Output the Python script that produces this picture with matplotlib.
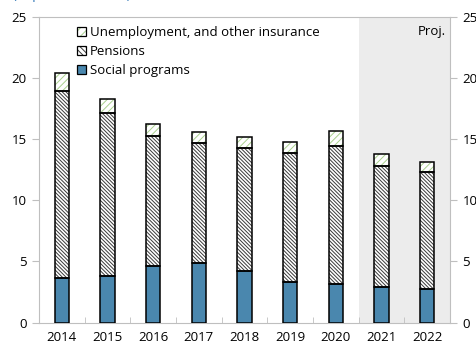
import numpy as np
import matplotlib
matplotlib.use("Agg")
import matplotlib.pyplot as plt
from matplotlib.patches import Patch
from matplotlib.legend_handler import HandlerTuple

# data (percent of GDP)
years = ["2014", "2015", "2016", "2017", "2018", "2019", "2020", "2021", "2022"]
social = [3.62, 3.81, 4.62, 4.84, 4.21, 3.29, 3.15, 2.87, 2.74]
pensions = [15.32, 13.36, 10.64, 9.88, 10.05, 10.56, 11.32, 9.93, 9.55]
unemployment = [1.46, 1.10, 0.96, 0.88, 0.94, 0.95, 1.20, 1.00, 0.87]
yticks = [0, 5, 10, 15, 20, 25]

plt.rcParams['font.family'] = ['Open Sans', 'DejaVu Sans']
plt.rcParams['hatch.linewidth'] = 0.7

blue = "#4a87ae"
green = "#a9d18e"
spine_col = "#bfbfbf"
pens_hatch = "\\" * 9
unemp_hatch = "/////"

fig = plt.figure(figsize=(4.77, 3.47), dpi=100)
ax = fig.add_axes([0.0818, 0.0706, 0.8616, 0.8804])

x = np.arange(len(years))
w = 0.32
social = np.array(social)
pensions = np.array(pensions)
unemployment = np.array(unemployment)

ax.axvspan(6.5, 8.5, color="#ececec", zorder=0, lw=0)

# social programs
ax.bar(x, social, w, color=blue, edgecolor="black", lw=1.1, zorder=3)
# pensions (dark hatch)
ax.bar(x, pensions, w, bottom=social, color="white", edgecolor="#3a3a3a",
       hatch=pens_hatch, lw=0, zorder=2)
ax.bar(x, pensions, w, bottom=social, fill=False, edgecolor="black", lw=1.1, zorder=3)
# unemployment (green hatch)
ax.bar(x, unemployment, w, bottom=social + pensions, color="white", edgecolor=green,
       hatch=unemp_hatch, lw=0, zorder=2)
ax.bar(x, unemployment, w, bottom=social + pensions, fill=False, edgecolor="black",
       lw=1.1, zorder=3)

ax.set_xlim(-0.5, 8.5)
ax.set_ylim(0, 25)
ax.set_xticks(x)
ax.set_xticklabels(years)
ax.set_xticks(np.arange(0.5, 8, 1), minor=True)
ax.tick_params(axis="x", which="major", length=0, labelsize=9.5, pad=6)
ax.tick_params(axis="x", which="minor", direction="in", length=4, color=spine_col)
ax.set_yticks(yticks)
ax.tick_params(axis="y", length=5, color=spine_col, labelsize=9.5, pad=4)
for s in ax.spines.values():
    s.set_color(spine_col)

ax2 = ax.twinx()
ax2.set_ylim(0, 25)
ax2.set_yticks(yticks)
ax2.tick_params(axis="y", length=5, color=spine_col, labelsize=9.5, pad=4)
for s in ax2.spines.values():
    s.set_visible(False)

ax.text(0.99, 0.975, "Proj.", transform=ax.transAxes, ha="right", va="top", fontsize=9.5)

# legend
h_unemp = (Patch(facecolor="white", edgecolor=green, hatch="////", lw=0),
           Patch(fill=False, edgecolor="black", lw=0.9))
h_pens = (Patch(facecolor="white", edgecolor="#3a3a3a", hatch="\\" * 6, lw=0),
          Patch(fill=False, edgecolor="black", lw=0.9))
h_soc = Patch(facecolor=blue, edgecolor="black", lw=0.9)
ax.legend([h_unemp, h_pens, h_soc],
          ["Unemployment, and other insurance", "Pensions", "Social programs"],
          handler_map={tuple: HandlerTuple(ndivide=1, pad=0)},
          loc="upper left", bbox_to_anchor=(0.07, 1.0), frameon=False,
          fontsize=9.5, handlelength=0.7, handleheight=0.7, handletextpad=0.25,
          labelspacing=0.45, borderaxespad=0.3)

# title, clipped at the very top as in the reference
fig.text(0.027, 1.0 + 1.5 / 347, "(In percent of GDP)", color="#2e75b6", fontsize=9.5,
         ha="left", va="baseline")

fig.savefig("out.png", dpi=100)
